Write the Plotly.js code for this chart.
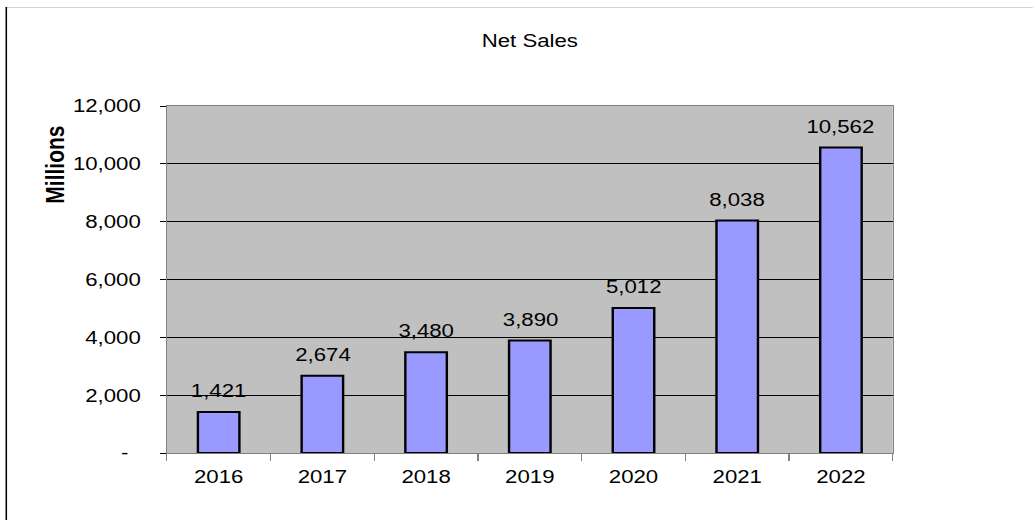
<!DOCTYPE html>
<html>
<head>
<meta charset="utf-8">
<script src="https://cdn.plot.ly/plotly-3.0.1.min.js"></script>
<style>
  html, body { margin: 0; padding: 0; background: #ffffff; overflow: hidden; }
  #wrap { width: 1033px; height: 520px; position: relative; overflow: hidden; }
  #chart { position: absolute; left: 0; top: 0; transform-origin: 0 0; }
</style>
</head>
<body>
<div id="wrap"><div id="chart"></div></div>
<script>
// ---- data ----
const years = ['2016', '2017', '2018', '2019', '2020', '2021', '2022'];
const netSales = [1421, 2674, 3480, 3890, 5012, 8038, 10562];
const yTickValues = [0, 2000, 4000, 6000, 8000, 10000, 12000];
const yTickLabels = ['-\u00a0\u00a0', '2,000', '4,000', '6,000', '8,000', '10,000', '12,000'];

// ---- the reference is horizontally stretched; reproduce with a scaleX ----
const S = 1.2;
const W = 1033, H = 520;
const WL = W / S;                       // layout width before stretch
const M = { l: 167 / S, r: 140 / S, t: 106, b: 67 };
const plotW = WL - M.l - M.r, plotH = H - M.t - M.b;
const px = p => (p / S - M.l) / plotW;   // screen px -> paper x
const py = p => (H - M.b - p) / plotH;   // screen px -> paper y

document.getElementById('chart').style.transform = 'scaleX(' + S + ')';

const FONT = 'Liberation Sans, Arial, Helvetica, sans-serif';
const FS = 18.5;
const fmt = v => v.toLocaleString('en-US');

const trace = {
  type: 'bar',
  x: years,
  y: netSales,
  marker: { color: '#9999FF', line: { color: '#000000', width: 2 } },
  hoverinfo: 'x+y'
};

const valueLabels = years.map((yr, i) => ({
  x: i, y: netSales[i], xref: 'x', yref: 'y',
  text: fmt(netSales[i]), showarrow: false,
  yanchor: 'bottom', yshift: 9,
  font: { family: FONT, size: FS, color: '#000000' }
}));

const layout = {
  width: WL, height: H,
  margin: M,
  paper_bgcolor: '#ffffff',
  plot_bgcolor: '#C0C0C0',
  showlegend: false,
  bargap: 0.6,
  font: { family: FONT, size: FS, color: '#000000' },
  title: {
    text: 'Net Sales',
    x: 0.5, xref: 'paper', xanchor: 'center',
    y: 1 - 41 / H, yref: 'container', yanchor: 'middle',
    font: { family: FONT, size: FS, color: '#000000' }
  },
  xaxis: {
    type: 'category',
    categoryorder: 'array', categoryarray: years,
    range: [-0.5, years.length - 0.5], autorange: false,
    showgrid: false,
    showline: true, linecolor: '#808080', linewidth: 1, mirror: true,
    ticks: 'outside', tickson: 'boundaries', ticklen: 7, tickcolor: '#808080', tickwidth: 1,
    tickangle: 0,
    ticklabelstandoff: 7,
    tickfont: { family: FONT, size: FS, color: '#000000' },
    fixedrange: true
  },
  yaxis: {
    range: [0, 12000], autorange: false,
    tickmode: 'array', tickvals: yTickValues, ticktext: yTickLabels,
    showgrid: true, gridcolor: '#000000', gridwidth: 1,
    zeroline: false,
    showline: true, linecolor: '#808080', linewidth: 1, mirror: true,
    ticks: 'outside', ticklen: 5, tickcolor: '#000000', tickwidth: 1,
    tickfont: { family: FONT, size: FS, color: '#000000' },
    ticklabelstandoff: 12,
    fixedrange: true
  },
  annotations: valueLabels.concat([{
    text: '<b>Millions</b>', showarrow: false,
    xref: 'paper', yref: 'paper',
    x: px(55), y: py(165), xanchor: 'center', yanchor: 'middle',
    textangle: -90,
    font: { family: FONT, size: 21, color: '#000000' }
  }]),
  shapes: [
    { type: 'line', xref: 'paper', yref: 'paper',
      x0: px(6), x1: px(W), y0: py(7.5), y1: py(7.5),
      line: { color: '#D3D3D3', width: 1 } },
    { type: 'line', xref: 'paper', yref: 'paper',
      x0: px(6.5), x1: px(6.5), y0: py(7), y1: py(H),
      line: { color: '#000000', width: 1.3 } }
  ]
};

Plotly.newPlot('chart', [trace], layout, { staticPlot: true, displayModeBar: false });
</script>
</body>
</html>
